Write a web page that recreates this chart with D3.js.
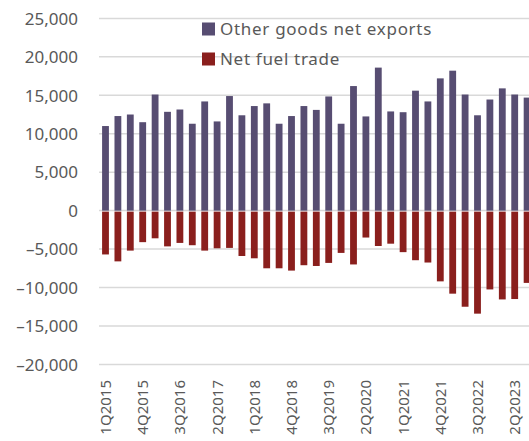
<!DOCTYPE html>
<html>
<head>
<meta charset="utf-8">
<script src="https://cdn.jsdelivr.net/npm/d3@7"></script>
<style>
  body { margin: 0; background: #fff; }
  text { font-family: "Noto Sans", sans-serif; fill: #595959; }
</style>
</head>
<body>
<div id="chart"></div>
<script>
var width = 529, height = 441;

// quarters 1Q2015 .. 3Q2023
var quarters = [];
for (var y = 2015; y <= 2023; y++) {
    for (var q = 1; q <= 4; q++) {
        if (y == 2023 && q > 3) break;
        quarters.push(q + "Q" + y);
    }
}

var otherGoods = [11000, 12300, 12500, 11500, 15100, 12850, 13150, 11300, 14200, 11600,
    14900, 12400, 13600, 13950, 11300, 12300, 13600, 13100, 14850, 11300,
    16200, 12250, 18600, 12900, 12800, 15600, 14200, 17200, 18200, 15100,
    12400, 14450, 15900, 15100, 14700];

var netFuel = [-5700, -6600, -5200, -4100, -3600, -4650, -4200, -4500, -5200, -4900,
    -4850, -5900, -6200, -7500, -7500, -7800, -7100, -7200, -6800, -5500,
    -7000, -3500, -4600, -4300, -5400, -6450, -6750, -9200, -10800, -12500,
    -13400, -10250, -11550, -11500, -9400];

var yTicks = [-20000, -15000, -10000, -5000, 0, 5000, 10000, 15000, 20000, 25000];
var seriesNames = ["Other goods net exports", "Net fuel trade"];
var colors = ["#574d72", "#8a1f1d"];

var svg = d3.select("#chart").append("svg")
    .attr("width", width)
    .attr("height", height);

var xScale = d3.scaleBand()
    .domain(quarters)
    .range([99.3, 99.3 + 35 * 12.4])
    .paddingInner(0.45)
    .paddingOuter(0.225);

var yScale = d3.scaleLinear()
    .domain([-20000, 25000])
    .range([364.4, 18.4]);

// gridlines
svg.append("g")
    .selectAll("line")
    .data(yTicks)
    .enter().append("line")
    .attr("x1", 99)
    .attr("x2", width)
    .attr("y1", function(d) { return yScale(d); })
    .attr("y2", function(d) { return yScale(d); })
    .attr("stroke", "#d9d9d9")
    .attr("stroke-width", 1.5);

// y axis labels (en dash for negatives, like the original)
var yAxis = d3.axisLeft(yScale)
    .tickValues(yTicks)
    .tickSize(0)
    .tickPadding(0)
    .tickFormat(function(d) { return d3.format(",")(d).replace("−", "–"); });

svg.append("g")
    .attr("transform", "translate(78,0)")
    .call(yAxis)
    .call(function(g) { g.select(".domain").remove(); })
    .selectAll("text")
    .attr("font-size", 17)
    .attr("dy", "0.34em")
    .style("font-family", "'Noto Sans', sans-serif")
    .attr("fill", "#595959");

// bars
svg.append("g")
    .selectAll("rect")
    .data(otherGoods)
    .enter().append("rect")
    .attr("x", function(d, i) { return xScale(quarters[i]); })
    .attr("width", xScale.bandwidth())
    .attr("y", function(d) { return yScale(d); })
    .attr("height", function(d) { return yScale(0) - yScale(d); })
    .attr("fill", colors[0]);

svg.append("g")
    .selectAll("rect")
    .data(netFuel)
    .enter().append("rect")
    .attr("x", function(d, i) { return xScale(quarters[i]); })
    .attr("width", xScale.bandwidth())
    .attr("y", yScale(0) + 1)
    .attr("height", function(d) { return yScale(d) - yScale(0) - 1; })
    .attr("fill", colors[1]);

// x axis labels, every third quarter
var xAxis = d3.axisBottom(xScale)
    .tickValues(quarters.filter(function(d, i) { return i % 3 == 0; }))
    .tickSize(0)
    .tickPadding(0);

svg.append("g")
    .attr("transform", "translate(0,380)")
    .call(xAxis)
    .call(function(g) { g.select(".domain").remove(); })
    .selectAll("text")
    .attr("transform", "rotate(-90)")
    .attr("x", 0)
    .attr("y", 0)
    .attr("dy", "0.36em")
    .style("text-anchor", "end")
    .style("font-family", "'Noto Sans', sans-serif")
    .attr("font-size", 15)
    .attr("fill", "#595959");

// legend
var legend = svg.append("g")
    .selectAll("g")
    .data(seriesNames)
    .enter().append("g")
    .attr("transform", function(d, i) { return "translate(202," + (22.5 + i * 30) + ")"; });

legend.append("rect")
    .attr("width", 13)
    .attr("height", 13)
    .attr("fill", function(d, i) { return colors[i]; });

legend.append("text")
    .attr("x", 18)
    .attr("y", 6.5)
    .attr("dy", "0.35em")
    .attr("font-size", 17)
    .attr("letter-spacing", 0.7)
    .text(function(d) { return d; });
</script>
</body>
</html>
